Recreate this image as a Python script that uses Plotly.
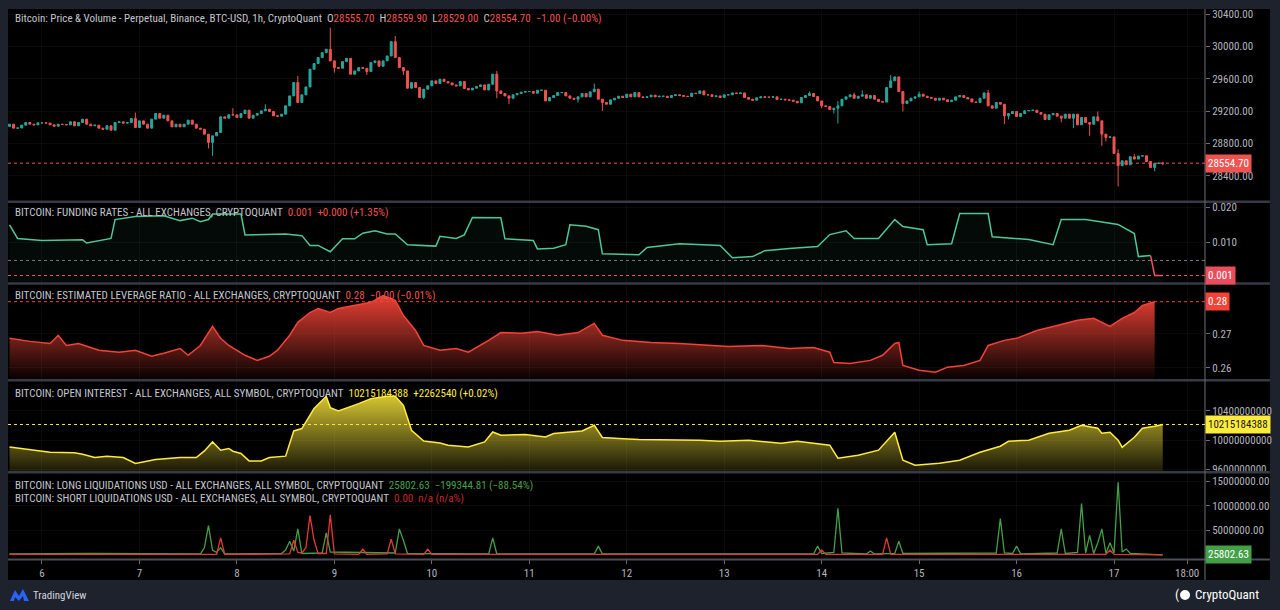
import pandas as pd
import plotly.graph_objects as go
from plotly.subplots import make_subplots

START = "2023-08-05 16:00"

# ---------------- price (hourly candles) ----------------
price_open_first = 29010.0
price_close = [
    29037, 28988, 28990, 29025, 29058, 29037, 29029, 29054, 29054, 29050,
    29029, 29012, 29037, 29033, 29029, 29066, 29017, 29058, 29099, 29037,
    29017, 29025, 28988, 28975, 29017, 28963, 29058, 29066, 29050, 29058,
    29107, 28996, 29078, 29037, 28988, 29099, 29169, 29111, 29148, 29078,
    29004, 29037, 29004, 29037, 29087, 29037, 28988, 28975, 28914, 28811,
    28893, 28934, 29128, 29111, 29153, 29152, 29120, 29169, 29210, 29111,
    29148, 29169, 29202, 29222, 29194, 29140, 29136, 29161, 29264, 29387,
    29552, 29305, 29400, 29498, 29717, 29787, 29861, 29922, 29964, 29820,
    29737, 29729, 29811, 29852, 29655, 29696, 29737, 29729, 29688, 29799,
    29820, 29754, 29820, 29881, 30058, 29861, 29737, 29696, 29482, 29552,
    29490, 29367, 29470, 29511, 29573, 29540, 29593, 29564, 29548, 29523,
    29511, 29564, 29478, 29461, 29482, 29503, 29523, 29461, 29531, 29655,
    29449, 29416, 29387, 29358, 29400, 29416, 29433, 29441, 29441, 29420,
    29457, 29457, 29325, 29367, 29391, 29428, 29428, 29387, 29358, 29346,
    29375, 29416, 29375, 29437, 29470, 29346, 29305, 29284, 29338, 29358,
    29383, 29367, 29408, 29375, 29428, 29375, 29367, 29375, 29396, 29375,
    29383, 29383, 29367, 29391, 29400, 29391, 29383, 29379, 29420, 29416,
    29449, 29400, 29400, 29379, 29387, 29367, 29400, 29400, 29424, 29416,
    29424, 29367, 29346, 29334, 29363, 29375, 29371, 29371, 29375, 29342,
    29346, 29338, 29334, 29321, 29301, 29367, 29391, 29416, 29379, 29325,
    29264, 29255, 29218, 29235, 29264, 29346, 29375, 29400, 29358, 29383,
    29400, 29358, 29391, 29346, 29317, 29310, 29490, 29573, 29622, 29441,
    29292, 29325, 29358, 29375, 29408, 29383, 29367, 29358, 29334, 29358,
    29338, 29317, 29334, 29375, 29391, 29367, 29350, 29313, 29305, 29358,
    29424, 29264, 29235, 29305, 29284, 29140, 29169, 29194, 29132, 29169,
    29202, 29206, 29210, 29181, 29161, 29095, 29153, 29169, 29136, 29111,
    29161, 29111, 29161, 29029, 29120, 29058, 29037, 29128, 29078, 28914,
    28873, 28880, 28675, 28523, 28584, 28535, 28634, 28605, 28642, 28646,
    28576, 28502, 28551, 28555.7, 28554.7,
]
# candle index -> (high, low) where a wick reaches past the body
price_wicks = {
    31: (29181, None), 49: (None, 28737), 50: (None, 28646), 55: (29235, None),
    63: (29284, None), 71: (29634, None), 79: (30231, None), 80: (None, 29675),
    88: (None, 29647), 95: (30128, None), 97: (None, 29647), 102: (None, 29346),
    120: (29696, 29358), 123: (None, 29285), 140: (None, 29305), 144: (29540, None),
    146: (None, 29202), 197: (29441, None), 200: (None, 29235), 203: (None, 29169),
    204: (29325, 29045), 208: (29428, None), 210: (29457, None), 217: (29646, None),
    220: (None, 29194), 224: (29441, None), 241: (29461, None), 245: (None, 29037),
    246: (None, 29095), 259: (None, 29058), 262: (None, 28988), 266: (None, 28893),
    268: (29194, None), 269: (None, 28770), 270: (None, 28823), 273: (28728, 28268),
    277: (28667, None), 282: (None, 28453), 284: (28559.9, 28529.0),
}

# ---------------- funding rate (hour offset, value) ----------------
funding_hours = [0, 2, 8, 18, 19, 25, 26, 31, 38, 42, 45, 47, 49, 50, 57, 58, 68, 72, 74, 76,
                 79, 82, 85, 87, 90, 93, 95, 98, 105, 106, 110, 112, 114, 121, 122, 129, 130,
                 134, 137, 138, 142, 145, 146, 155, 157, 165, 175, 178, 183, 186, 192, 199,
                 202, 206, 208, 214, 218, 220, 225, 226, 232, 234, 241, 242, 251, 257, 259,
                 265, 273, 277, 278, 281]
funding_vals = [0.0150, 0.0111, 0.0105, 0.0107, 0.0098, 0.0111, 0.0165, 0.0174, 0.0176, 0.0162,
                0.0169, 0.0159, 0.0165, 0.0181, 0.0181, 0.0121, 0.0124, 0.0119, 0.0091, 0.0091,
                0.0073, 0.0110, 0.0110, 0.0126, 0.0133, 0.0124, 0.0124, 0.0093, 0.0089, 0.0117,
                0.0111, 0.0121, 0.0171, 0.0170, 0.0110, 0.0105, 0.0081, 0.0083, 0.0093, 0.0150,
                0.0146, 0.0136, 0.0067, 0.0064, 0.0085, 0.0096, 0.0091, 0.0056, 0.0059, 0.0076,
                0.0082, 0.0088, 0.0122, 0.0133, 0.0111, 0.0111, 0.0165, 0.0145, 0.0136, 0.0093,
                0.0096, 0.0182, 0.0182, 0.0116, 0.0108, 0.0093, 0.0165, 0.0165, 0.0151, 0.0125,
                0.0059, 0.0062]
funding_tail_hours = [281, 282, 284]
funding_tail_vals = [0.0062, 0.0005, 0.0005]
funding_ref_level = 0.0048

# ---------------- estimated leverage ratio ----------------
lev_hours = [0, 5, 10, 12, 14, 17, 22, 27, 31, 35, 38, 42, 44, 47, 50, 52, 54, 58, 61, 64,
             66, 69, 71, 74, 76, 79, 81, 85, 89, 92, 95, 97, 100, 102, 106, 110, 113, 118,
             121, 126, 130, 135, 140, 144, 146, 151, 158, 165, 170, 177, 185, 192, 198, 202,
             203, 207, 212, 215, 218, 219, 220, 224, 228, 231, 235, 239, 241, 245, 248, 253,
             258, 263, 267, 271, 274, 277, 279, 282]
lev_vals = [0.2687, 0.2678, 0.2672, 0.2696, 0.2666, 0.2672, 0.2652, 0.2646, 0.2652, 0.2634,
            0.2643, 0.2657, 0.2637, 0.2666, 0.2722, 0.2687, 0.2666, 0.2637, 0.2622, 0.2634,
            0.2652, 0.2696, 0.2734, 0.2763, 0.2775, 0.2763, 0.2775, 0.2784, 0.2793, 0.2813,
            0.2799, 0.2754, 0.2710, 0.2666, 0.2652, 0.2657, 0.2646, 0.2681, 0.2704, 0.2702,
            0.2707, 0.2696, 0.2704, 0.2731, 0.2696, 0.2681, 0.2675, 0.2672, 0.2669, 0.2663,
            0.2666, 0.2657, 0.2660, 0.2646, 0.2616, 0.2613, 0.2622, 0.2637, 0.2672, 0.2675,
            0.2607, 0.2593, 0.2587, 0.2602, 0.2607, 0.2622, 0.2666, 0.2681, 0.2687, 0.2710,
            0.2725, 0.2740, 0.2746, 0.2722, 0.2746, 0.2763, 0.2784, 0.2795]

# ---------------- open interest ----------------
oi_hours = [0, 5, 10, 16, 18, 21, 24, 28, 31, 36, 42, 46, 48, 50, 52, 54, 55, 57, 59, 62,
            64, 68, 70, 72, 75, 78, 79, 81, 84, 86, 89, 93, 95, 97, 99, 102, 106, 108, 113,
            117, 119, 121, 127, 132, 134, 141, 144, 146, 150, 155, 170, 175, 182, 190, 194,
            202, 204, 209, 214, 218, 220, 223, 229, 234, 239, 244, 246, 251, 256, 261, 264,
            268, 269, 271, 273, 274, 277, 279, 282, 284]
oi_vals = [9.908e9, 9.873e9, 9.836e9, 9.827e9, 9.809e9, 9.764e9, 9.782e9, 9.764e9, 9.682e9,
           9.737e9, 9.764e9, 9.764e9, 9.854e9, 9.977e9, 9.864e9, 9.887e9, 9.850e9, 9.818e9,
           9.717e9, 9.717e9, 9.764e9, 9.782e9, 10.127e9, 10.160e9, 10.433e9, 10.601e9,
           10.446e9, 10.400e9, 10.455e9, 10.501e9, 10.569e9, 10.601e9, 10.601e9, 10.478e9,
           10.137e9, 9.990e9, 9.963e9, 9.932e9, 9.909e9, 9.977e9, 10.113e9, 10.068e9,
           10.078e9, 10.045e9, 10.091e9, 10.127e9, 10.205e9, 10.037e9, 10.023e9, 10.010e9,
           10.000e9, 9.986e9, 10.000e9, 9.959e9, 9.986e9, 9.932e9, 9.754e9, 9.795e9, 9.864e9,
           10.109e9, 9.727e9, 9.659e9, 9.686e9, 9.727e9, 9.836e9, 9.918e9, 9.986e9, 10.000e9,
           10.096e9, 10.137e9, 10.205e9, 10.164e9, 10.096e9, 10.109e9, 10.000e9, 9.904e9,
           10.041e9, 10.164e9, 10.191e9, 10215184388]

# ---------------- liquidations (USD) ----------------
long_liq_hours = [0, 20, 47, 48, 49, 50, 51, 52, 53, 67, 68, 69, 70, 71, 72, 77, 78, 79, 95,
                  96, 97, 98, 118, 119, 120, 144, 145, 146, 198, 199, 200, 203, 204, 205, 211,
                  212, 213, 218, 219, 220, 243, 244, 245, 247, 248, 249, 258, 259, 260, 263,
                  264, 265, 266, 267, 268, 269, 270, 271, 272, 273, 274, 275, 276, 284]
long_liq_vals = [0.2e6, 0.3e6, 0.2e6, 1.5e6, 6.0e6, 1.0e6, 0.5e6, 1.5e6, 0.2e6, 0.3e6, 1.0e6,
                 2.8e6, 0.8e6, 5.3e6, 0.3e6, 0.4e6, 4.5e6, 0.6e6, 0.4e6, 5.3e6, 3.0e6, 0.3e6,
                 0.2e6, 3.5e6, 0.2e6, 0.2e6, 1.8e6, 0.2e6, 0.2e6, 1.8e6, 0.3e6, 0.5e6, 9.5e6,
                 0.4e6, 0.2e6, 0.8e6, 0.2e6, 0.3e6, 2.8e6, 0.3e6, 0.4e6, 7.4e6, 0.4e6, 0.3e6,
                 1.8e6, 0.2e6, 0.4e6, 5.3e6, 0.3e6, 0.5e6, 10.5e6, 0.4e6, 4.0e6, 0.3e6, 2.5e6,
                 5.3e6, 0.3e6, 2.5e6, 0.4e6, 14.8e6, 0.6e6, 1.2e6, 0.3e6, 25802.63]
short_liq_hours = [0, 51, 52, 53, 69, 70, 71, 72, 73, 74, 75, 76, 78, 79, 80, 86, 87, 88, 93,
                   94, 95, 102, 103, 104, 199, 200, 201, 215, 216, 217, 270, 271, 272, 284]
short_liq_vals = [0.1e6, 0.1e6, 3.5e6, 0.1e6, 0.2e6, 3.0e6, 0.5e6, 0.4e6, 1.5e6, 8.0e6, 3.0e6,
                  0.3e6, 0.3e6, 8.2e6, 0.2e6, 0.1e6, 1.2e6, 0.1e6, 0.2e6, 3.2e6, 0.2e6, 0.1e6,
                  1.2e6, 0.1e6, 0.1e6, 1.0e6, 0.1e6, 0.1e6, 3.5e6, 0.1e6, 0.1e6, 1.0e6, 0.1e6,
                  0.0]

# ---------------- axis ticks ----------------
x_tick_times = ["2023-08-06", "2023-08-07", "2023-08-08", "2023-08-09", "2023-08-10",
                "2023-08-11", "2023-08-12", "2023-08-13", "2023-08-14", "2023-08-15",
                "2023-08-16", "2023-08-17", "2023-08-17 18:00"]
x_tick_text = ["6", "7", "8", "9", "10", "11", "12", "13", "14", "15", "16", "17", "18:00"]
price_ticks = [28400, 28800, 29200, 29600, 30000, 30400]
funding_ticks = [0.010, 0.020]
lev_ticks = [0.26, 0.27]
oi_ticks = [9.6e9, 10.0e9, 10.4e9]
liq_ticks = [5e6, 10e6, 15e6]

# =====================================================================
base = pd.Timestamp(START)


def hours_to_time(hours):
    return [base + pd.Timedelta(hours=h) for h in hours]


times = pd.date_range(START, periods=len(price_close), freq="h")
opens = [price_open_first] + price_close[:-1]
highs, lows = [], []
for i, (o, c) in enumerate(zip(opens, price_close)):
    hi, lo = price_wicks.get(i, (None, None))
    highs.append(max(o, c, hi if hi is not None else c))
    lows.append(min(o, c, lo if lo is not None else c))

W, H = 1280, 610
L_PX, R_PX, T_PX, B_PX = 8, 1207, 8, 559
PW, PH = R_PX - L_PX, B_PX - T_PX


def px_x(px):
    return (px - L_PX) / PW


def px_y(py):
    return (B_PX - py) / PH


FONT = "Liberation Sans Narrow, Roboto Condensed, Roboto, Arial, sans-serif"
TXT = "#c3c6ce"
AXT = "#b2b5be"
GRID = "rgba(255,255,255,0.04)"
GREEN = "#26a69a"
RED = "#ef5350"

fig = make_subplots(rows=5, cols=1, shared_xaxes=True, vertical_spacing=0)

fig.add_trace(go.Candlestick(
    x=times, open=opens, high=highs, low=lows, close=price_close,
    increasing=dict(line=dict(color=GREEN, width=1), fillcolor=GREEN),
    decreasing=dict(line=dict(color=RED, width=1), fillcolor=RED),
    whiskerwidth=0, hoverinfo="skip", showlegend=False), row=1, col=1)

# ranges per pane (chosen so labels fall at the reference pixel rows)
price_rng = [28091, 30462]
fund_rng = [-0.00151, 0.02134]
lev_rng = [0.25662, 0.28456]
oi_rng = [9.5769e9, 10.8054e9]
liq_rng = [-0.823e6, 16.67e6]

f_t = hours_to_time(funding_hours)
fig.add_trace(go.Scatter(x=[f_t[0], hours_to_time([funding_tail_hours[-1]])[0]],
                         y=[fund_rng[0]] * 2, mode="lines", line=dict(width=0),
                         hoverinfo="skip", showlegend=False), row=2, col=1)
fig.add_trace(go.Scatter(x=f_t + hours_to_time(funding_tail_hours[1:]),
                         y=funding_vals + funding_tail_vals[1:], mode="lines",
                         line=dict(width=0), fill="tonexty",
                         fillcolor="rgba(60,190,130,0.05)", hoverinfo="skip",
                         showlegend=False), row=2, col=1)
fig.add_trace(go.Scatter(x=f_t, y=funding_vals, mode="lines",
                         line=dict(color="#4ec795", width=1.5), hoverinfo="skip",
                         showlegend=False), row=2, col=1)
fig.add_trace(go.Scatter(x=hours_to_time(funding_tail_hours), y=funding_tail_vals,
                         mode="lines", line=dict(color="#f0506a", width=1.5),
                         hoverinfo="skip", showlegend=False), row=2, col=1)

l_t = hours_to_time(lev_hours)
fig.add_trace(go.Scatter(x=[l_t[0], l_t[-1]], y=[lev_rng[0]] * 2, mode="lines",
                         line=dict(width=0), hoverinfo="skip", showlegend=False), row=3, col=1)
fig.add_trace(go.Scatter(x=l_t, y=lev_vals, mode="lines", line=dict(color="#f44336", width=1.5),
                         fill="tonexty",
                         fillgradient=dict(type="vertical", start=lev_rng[0], stop=0.2815,
                                           colorscale=[[0, "rgba(244,67,54,0.02)"],
                                                       [1, "rgba(244,67,54,0.95)"]]),
                         hoverinfo="skip", showlegend=False), row=3, col=1)

o_t = hours_to_time(oi_hours)
fig.add_trace(go.Scatter(x=[o_t[0], o_t[-1]], y=[oi_rng[0]] * 2, mode="lines",
                         line=dict(width=0), hoverinfo="skip", showlegend=False), row=4, col=1)
fig.add_trace(go.Scatter(x=o_t, y=oi_vals, mode="lines", line=dict(color="#ffeb3b", width=1.5),
                         fill="tonexty",
                         fillgradient=dict(type="vertical", start=oi_rng[0], stop=10.62e9,
                                           colorscale=[[0, "rgba(255,235,59,0.10)"],
                                                       [1, "rgba(255,235,59,0.85)"]]),
                         hoverinfo="skip", showlegend=False), row=4, col=1)

fig.add_trace(go.Scatter(x=hours_to_time(long_liq_hours), y=long_liq_vals, mode="lines",
                         line=dict(color="#43a047", width=1.3), hoverinfo="skip",
                         showlegend=False), row=5, col=1)
fig.add_trace(go.Scatter(x=hours_to_time(short_liq_hours), y=short_liq_vals, mode="lines",
                         line=dict(color="#e53935", width=1.3), hoverinfo="skip",
                         showlegend=False), row=5, col=1)

# -------- axes --------
domains = [
    (px_y(200), px_y(8)),
    (px_y(282), px_y(202)),
    (px_y(379), px_y(284)),
    (px_y(471), px_y(381)),
    (0.0, px_y(473)),
]
ranges = [price_rng, fund_rng, lev_rng, oi_rng, liq_rng]
ticks = [price_ticks, funding_ticks, lev_ticks, oi_ticks, liq_ticks]
fmts = [".2f", ".3f", ".2f", "d", ".2f"]
x_rng = [base + pd.Timedelta(hours=-0.37), base + pd.Timedelta(hours=294.4)]
xt = [pd.Timestamp(t) for t in x_tick_times]

for r in range(5):
    fig.update_yaxes(row=r + 1, col=1, domain=list(domains[r]), range=ranges[r], side="right",
                     tickvals=ticks[r], tickformat=fmts[r], showgrid=True, gridcolor=GRID,
                     zeroline=False, ticks="outside", ticklen=4, tickcolor="#6a6d78",
                     showline=False, tickfont=dict(family=FONT, size=11, color=AXT),
                     fixedrange=True)
    fig.update_xaxes(row=r + 1, col=1, range=x_rng, tickvals=xt, ticktext=x_tick_text,
                     showgrid=True, gridcolor=GRID, zeroline=False, showline=False,
                     showticklabels=(r == 4), rangeslider_visible=False,
                     ticks="outside" if r == 4 else "", ticklen=4, tickcolor="#6a6d78",
                     tickfont=dict(family=FONT, size=11, color=AXT))

# -------- shapes --------
shapes = [
    dict(type="rect", xref="paper", yref="paper", x0=px_x(8), x1=px_x(1272),
         y0=px_y(580), y1=px_y(8), fillcolor="#000000", line=dict(width=0), layer="below"),
]
for py in [201, 283, 380, 472]:
    shapes.append(dict(type="line", xref="paper", yref="paper", x0=px_x(8), x1=px_x(1272),
                       y0=px_y(py), y1=px_y(py), line=dict(color="#363a45", width=2.5)))
shapes.append(dict(type="line", xref="paper", yref="paper", x0=px_x(8), x1=px_x(1272),
                   y0=px_y(559.5), y1=px_y(559.5), line=dict(color="#4a4e59", width=2)))
shapes.append(dict(type="line", xref="paper", yref="paper", x0=1, x1=1,
                   y0=px_y(580), y1=px_y(8), line=dict(color="#6a6d78", width=1)))
# dotted value lines
value_lines = [("y", price_close[-1], RED), ("y2", funding_ref_level, "#787b86"),
               ("y2", funding_tail_vals[-1], "#f0506a"), ("y3", lev_vals[-1], "#f44336"),
               ("y4", oi_vals[-1], "#ffeb3b")]
for yref, val, col in value_lines:
    shapes.append(dict(type="line", xref="paper", yref=yref, x0=0, x1=1, y0=val, y1=val,
                       line=dict(color=col, width=1, dash="dot")))
# TradingView mark
tv = [(10, 601), (15, 590), (19, 596), (23, 589), (29, 601), (24, 601), (23, 596), (19, 601), (15, 597), (14, 601)]
path = "M " + " L ".join(f"{px_x(a):.5f},{px_y(b):.5f}" for a, b in tv) + " Z"
shapes.append(dict(type="path", xref="paper", yref="paper", path=path,
                   fillcolor="#2962ff", line=dict(width=0)))
shapes.append(dict(type="circle", xref="paper", yref="paper", x0=px_x(1182), x1=px_x(1192),
                   y0=px_y(600), y1=px_y(590), fillcolor="#ffffff", line=dict(width=0)))

# -------- annotations --------
NB = "\u00a0"


def col(t, c):
    return f'<span style="color:{c}">{t}</span>'


titles = [
    (18, "Bitcoin: Price &amp; Volume - Perpetual, Binance, BTC-USD, 1h, CryptoQuant" + NB * 2
     + "O" + col("28555.70", RED) + NB * 2 + "H" + col("28559.90", RED) + NB * 2 + "L"
     + col("28529.00", RED) + NB * 2 + "C" + col("28554.70", RED) + NB * 2
     + col("\u22121.00 (\u22120.00%)", RED)),
    (212, "BITCOIN: FUNDING RATES - ALL EXCHANGES, CRYPTOQUANT" + NB * 2
     + col("0.001" + NB * 2 + "+0.000 (+1.35%)", RED)),
    (295.5, "BITCOIN: ESTIMATED LEVERAGE RATIO - ALL EXCHANGES, CRYPTOQUANT" + NB * 2
     + col("0.28" + NB * 2 + "\u22120.00 (\u22120.01%)", RED)),
    (393.5, "BITCOIN: OPEN INTEREST - ALL EXCHANGES, ALL SYMBOL, CRYPTOQUANT" + NB * 2
     + col("10215184388" + NB * 2 + "+2262540 (+0.02%)", "#ffeb3b")),
    (485, "BITCOIN: LONG LIQUIDATIONS USD - ALL EXCHANGES, ALL SYMBOL, CRYPTOQUANT" + NB * 2
     + col("25802.63" + NB * 2 + "\u2212199344.81 (\u221288.54%)", "#43a047")),
    (498, "BITCOIN: SHORT LIQUIDATIONS USD - ALL EXCHANGES, ALL SYMBOL, CRYPTOQUANT" + NB * 2
     + col("0.00" + NB * 2 + "n/a (n/a%)", "#c62828")),
]
annotations = []
for py, text in titles:
    annotations.append(dict(xref="paper", yref="paper", x=px_x(13), y=px_y(py), text=text,
                            xanchor="left", yanchor="middle", showarrow=False,
                            font=dict(family=FONT, size=11, color=TXT)))

boxes = [("y", price_close[-1], "28554.70", RED, "#ffffff"),
         ("y2", funding_tail_vals[-1], "0.001", "#eb4d5c", "#ffffff"),
         ("y3", lev_vals[-1], "0.28", "#f44336", "#ffffff"),
         ("y4", oi_vals[-1], "10215184388", "#ffeb3b", "#131722"),
         ("y5", long_liq_vals[-1], "25802.63", "#43a047", "#ffffff")]
for yref, val, text, bg, fc in boxes:
    annotations.append(dict(xref="paper", yref=yref, x=1.0, y=val, text=text, xanchor="left",
                            yanchor="middle", showarrow=False, bgcolor=bg, borderpad=2,
                            font=dict(family=FONT, size=11, color=fc)))

annotations.append(dict(xref="paper", yref="paper", x=px_x(31), y=px_y(595.5), text="TradingView",
                        xanchor="left", yanchor="middle", showarrow=False,
                        font=dict(family=FONT, size=11, color="#d1d4dc")))
annotations.append(dict(xref="paper", yref="paper", x=px_x(1175), y=px_y(595), text="(",
                        xanchor="left", yanchor="middle", showarrow=False,
                        font=dict(family=FONT, size=13, color="#ffffff")))
annotations.append(dict(xref="paper", yref="paper", x=px_x(1195), y=px_y(595), text="CryptoQuant",
                        xanchor="left", yanchor="middle", showarrow=False,
                        font=dict(family=FONT, size=13, color="#ffffff")))

fig.update_layout(
    width=W, height=H,
    margin=dict(l=L_PX, r=W - R_PX, t=T_PX, b=H - B_PX),
    paper_bgcolor="#1e222d", plot_bgcolor="#000000",
    showlegend=False, hovermode=False,
    shapes=shapes, annotations=annotations,
    font=dict(family=FONT, size=11, color=AXT),
)

fig.write_html(
    "out.html",
    config={"displayModeBar": False, "staticPlot": True},
    post_script="document.body.style.margin='0';document.body.style.background='#1e222d';",
)
